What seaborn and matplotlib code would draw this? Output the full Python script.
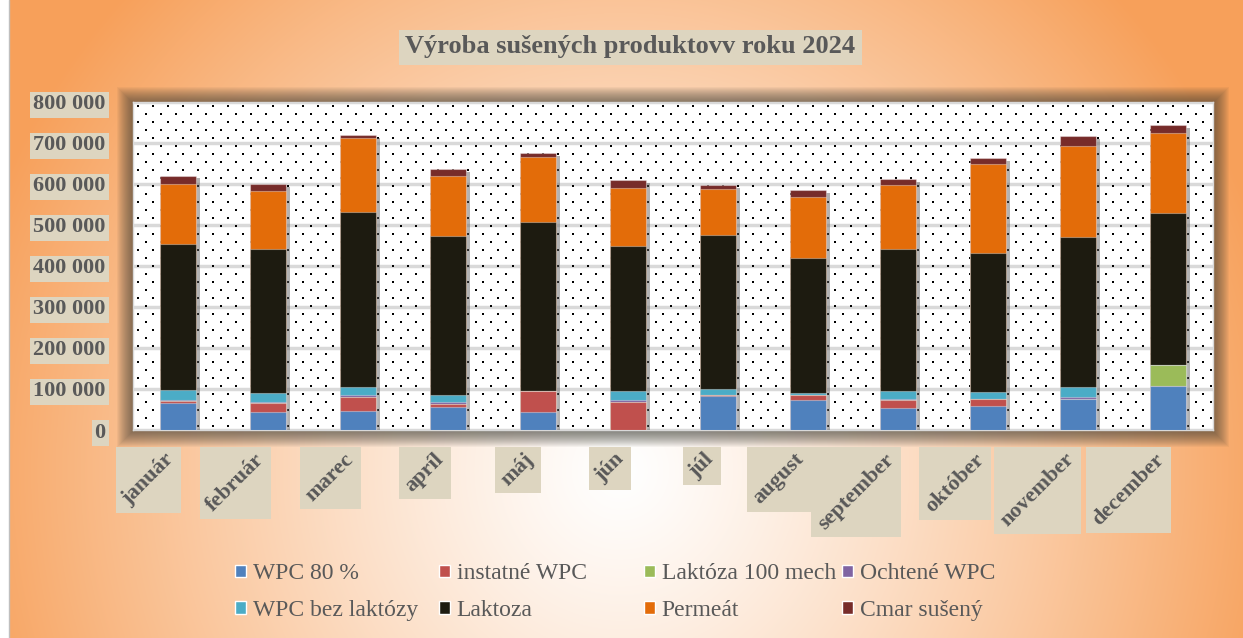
import numpy as np
import matplotlib
matplotlib.use("Agg")
import matplotlib.pyplot as plt
import matplotlib.patheffects as pe
from matplotlib.patches import Rectangle, Patch
from matplotlib.ticker import FuncFormatter
import seaborn as sns

# ------------------- DATA -------------------
mesiace = ['január', 'február', 'marec', 'apríl', 'máj', 'jún',
           'júl', 'august', 'september', 'október', 'november', 'december']

wpc_80 = [65000, 43000, 45500, 57000, 43000, 0, 84000, 74000, 54000, 58500, 75500, 107000]
instatne_wpc = [6000, 23500, 35000, 7000, 52000, 67500, 1000, 11000, 18000, 17000, 0, 0]
laktoza_100 = [0, 0, 0, 0, 0, 0, 0, 0, 0, 0, 0, 51500]
ochtene_wpc = [2000, 1000, 5500, 4000, 0, 5500, 0, 0, 4000, 0, 5000, 0]
wpc_bez_laktozy = [24500, 22000, 18000, 18500, 0, 23000, 16000, 6000, 19500, 18000, 24500, 0]
laktoza = [356000, 351000, 428000, 386000, 413000, 353500, 374500, 329000, 345500, 337500, 366500, 371500]
permeat = [147500, 142500, 180000, 146500, 158000, 140000, 112500, 149000, 157000, 218000, 221500, 195000]
cmar_suseny = [19500, 17000, 7000, 17500, 9000, 20500, 9000, 16000, 13500, 15000, 24000, 18000]

produkty = ['WPC 80 %', 'instatné WPC', 'Laktóza 100 mech', 'Ochtené WPC',
            'WPC bez laktózy', 'Laktoza', 'Permeát', 'Cmar sušený']
hodnoty = [wpc_80, instatne_wpc, laktoza_100, ochtene_wpc,
           wpc_bez_laktozy, laktoza, permeat, cmar_suseny]
farby = ['#4F81BD', '#C0504D', '#9BBB59', '#8064A2',
         '#4BACC6', '#1D1B10', '#E36C09', '#772C2A']

nadpis = 'Výroba sušených produktovv roku 2024'

# ------------------- STYLE -------------------
sns.set_theme(style='white')
plt.rcParams['font.family'] = ['Liberation Serif', 'DejaVu Serif']
sediva = '#595959'
bezova = '#DDD5C0'

W, H = 1243, 638
fig = plt.figure(figsize=(W / 100, H / 100), dpi=100)

# pozadie - oranzovy radialny prechod
yy, xx = np.mgrid[0:H, 0:W]
t = np.sqrt(((xx - 620) / 680.0) ** 2 + ((yy - 470) / 700.0) ** 2)
t = np.clip(t, 0, 1) ** 1.2
oranz = np.array([247, 160, 90]) / 255
img = 1 - t[..., None] * (1 - oranz)
bg = fig.add_axes([0, 0, 1, 1], zorder=-10)
bg.imshow(img, aspect='auto')
bg.add_patch(Rectangle((-0.5, -0.5), 9, H, facecolor='white', edgecolor='none', zorder=1))
bg.plot([8.5, 8.5], [-0.5, H], color='#BFBFBF', lw=1, zorder=1)
bg.set_xlim(-0.5, W - 0.5)
bg.set_ylim(H - 0.5, -0.5)
bg.axis('off')

# tien okolo grafu
x0, y0, pw, ph = 133, 102, 1080, 328
for i in range(1, 17):
    bg.add_patch(Rectangle((x0 - i, y0 - i), pw + 2 * i, ph + 2 * i,
                           facecolor='#3a3a32', edgecolor='none', alpha=0.05, zorder=1))

ax = fig.add_axes([x0 / W, 1 - (y0 + ph) / H, pw / W, ph / H])
ax.set_facecolor('white')

# bodkovany vzor
cols = np.arange(0, pw, 15)
rows = np.arange(4, ph, 8)
bx, by = [], []
for k, r in enumerate(rows):
    xs = cols + 5 + (7.5 if k % 2 else 0)
    xs = xs[xs < pw]
    bx.extend(xs / pw)
    by.extend([r / ph] * len(xs))
ax.scatter(bx, by, transform=ax.transAxes, s=2.5, marker='s', c='black',
           linewidths=0, zorder=0.6)

# ------------------- STLPCE -------------------
kumul = np.cumsum(np.array(hodnoty, dtype=float), axis=0)
for i in range(len(produkty) - 1, -1, -1):
    sns.barplot(x=mesiace, y=kumul[i], color=farby[i], saturation=1, width=0.4,
                errorbar=None, ax=ax, edgecolor=(1, 1, 1, 0.35), linewidth=0.8, zorder=3)

for bar in ax.containers[0]:
    bar.set_path_effects([pe.SimplePatchShadow(offset=(3, -2), shadow_rgbFace='#555555', alpha=0.45),
                          pe.Normal()])

ax.set_xlim(-0.5, 11.5)
ax.set_ylim(0, 800000)
ax.set_yticks(np.arange(0, 800001, 100000))
ax.yaxis.set_major_formatter(FuncFormatter(lambda v, p: f"{int(v):,}".replace(",", " ")))
ax.yaxis.grid(True, color='#D9D9D9', linewidth=2.5)
ax.xaxis.grid(False)
ax.set_axisbelow(True)
for s in ax.spines.values():
    s.set_color('#D9D9D9')
    s.set_linewidth(1)
ax.set_xlabel('')
ax.set_ylabel('')

ax.tick_params(axis='y', length=0, pad=20, labelsize=16, labelcolor=sediva)
ax.tick_params(axis='x', length=0, pad=14, labelsize=16, labelcolor=sediva)
ax.set_xticks(range(len(mesiace)))
ax.set_xticklabels(mesiace, rotation=45, ha='right', va='top', fontweight='bold')
for lbl in ax.get_yticklabels():
    lbl.set_fontweight('bold')

titulok = fig.text(630 / W, 1 - 47 / H, nadpis, ha='center', va='center',
                   fontsize=19, fontweight='bold', color=sediva)

# ------------------- LEGENDA -------------------
stlpce_x = [235, 439, 644, 842]
for j in range(4):
    h = [Patch(facecolor=farby[j]), Patch(facecolor=farby[j + 4])]
    fig.legend(handles=h, labels=[produkty[j], produkty[j + 4]], loc='center left',
               bbox_to_anchor=(stlpce_x[j] / W, 1 - 592 / H), frameon=False, fontsize=17,
               handlelength=0.45, handleheight=0.45, handletextpad=0.3, labelspacing=0.65,
               borderpad=0, borderaxespad=0, labelcolor=sediva)

# bezove podklady pod texty
fig.canvas.draw()
rend = fig.canvas.get_renderer()


def podklad(txt, pad):
    bb = txt.get_window_extent(rend)
    bg.add_patch(Rectangle((bb.x0 - pad, H - bb.y1 - pad), bb.width + 2 * pad, bb.height + 2 * pad,
                           facecolor=bezova, edgecolor='none', zorder=2))


for lbl in ax.get_xticklabels():
    podklad(lbl, 3)
for lbl in ax.get_yticklabels():
    podklad(lbl, 3)
podklad(titulok, 6)

fig.savefig('out.png', dpi=100)
